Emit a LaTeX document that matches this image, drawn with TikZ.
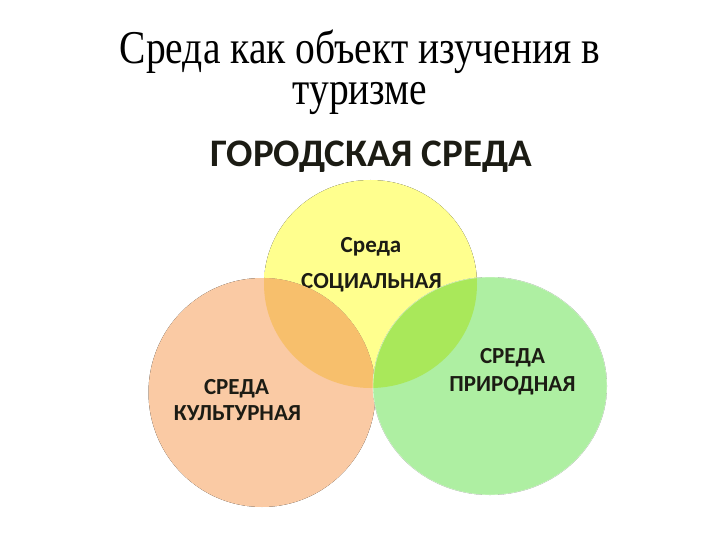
\documentclass[tikz,border=0pt]{standalone}
\usepackage{fontspec}
\setmainfont{Liberation Serif}
\newfontfamily\carl{Carlito}
\definecolor{ylwin}{HTML}{FFFF8E}
\definecolor{ylwout}{HTML}{F2F25A}
\definecolor{orin}{HTML}{FACAA4}
\definecolor{orout}{HTML}{F6BE92}
\definecolor{grin}{HTML}{AEEFA2}
\definecolor{grout}{HTML}{A2E892}
\definecolor{ovorange}{HTML}{F7BF6C}
\definecolor{ovgreen}{HTML}{A9E85A}
\definecolor{txt}{HTML}{1C1C14}
\pgfdeclareradialshading{yelsh}{\pgfpointorigin}{color(0bp)=(ylwin); color(32bp)=(ylwin); color(50bp)=(ylwout)}
\pgfdeclareradialshading{orsh}{\pgfpointorigin}{color(0bp)=(orin); color(35bp)=(orin); color(50bp)=(orout)}
\pgfdeclareradialshading{grsh}{\pgfpointorigin}{color(0bp)=(grin); color(35bp)=(grin); color(50bp)=(grout)}
\tikzset{
  lbl/.style={font=\carl\bfseries\fontsize{23}{27}\selectfont, text=txt, inner sep=0pt, anchor=base},
  yel/.style={x radius=106.5pt, y radius=104pt},
  ora/.style={x radius=113.5pt, y radius=114.5pt},
  gre/.style={x radius=117pt, y radius=109pt}
}
\begin{document}
\begin{tikzpicture}[x=1pt,y=-1pt]
\useasboundingbox[fill=white] (0,0) rectangle (720,540);
% title
\node[font=\fontsize{47}{41.5}\selectfont, text=black, inner sep=0pt, align=center, anchor=base] (title) at (360,105)
  {\scalebox{0.84}[1]{Среда как объект изучения в}\\\scalebox{0.84}[1]{туризме}};
\node[font=\carl\bfseries\fontsize{39}{46}\selectfont, text=txt, inner sep=0pt, anchor=base] (city) at (371.5,167) {ГОРОДСКАЯ СРЕДА};
% circle centres
\coordinate (cy) at (370.5,284);
\coordinate (co) at (262,392.5);
\coordinate (cg) at (490,386);
% social (yellow)
\fill[shading=yelsh] (cy) ellipse [yel];
\node[lbl] (soc1) at (371,252) {Среда};
\node[lbl] (soc2) at (371.5,288) {СОЦИАЛЬНАЯ};
% cultural (orange)
\fill[shading=orsh] (co) ellipse [ora];
\begin{scope}
  \clip (co) ellipse [ora];
  \fill[ovorange] (cy) ellipse [yel];
\end{scope}
% natural (green)
\fill[shading=grsh] (cg) ellipse [gre];
\begin{scope}
  \clip (cg) ellipse [gre];
  \fill[ovgreen] (cy) ellipse [yel];
\end{scope}
\draw[white, opacity=0.5, line width=0.8pt] (cg) ellipse [gre];
% labels
\node[lbl] (cul1) at (236.5,394) {СРЕДА};
\node[lbl] (cul2) at (237.5,420) {КУЛЬТУРНАЯ};
\node[lbl] (nat1) at (512.5,363) {СРЕДА};
\node[lbl] (nat2) at (512.5,391) {ПРИРОДНАЯ};
\end{tikzpicture}
\end{document}
